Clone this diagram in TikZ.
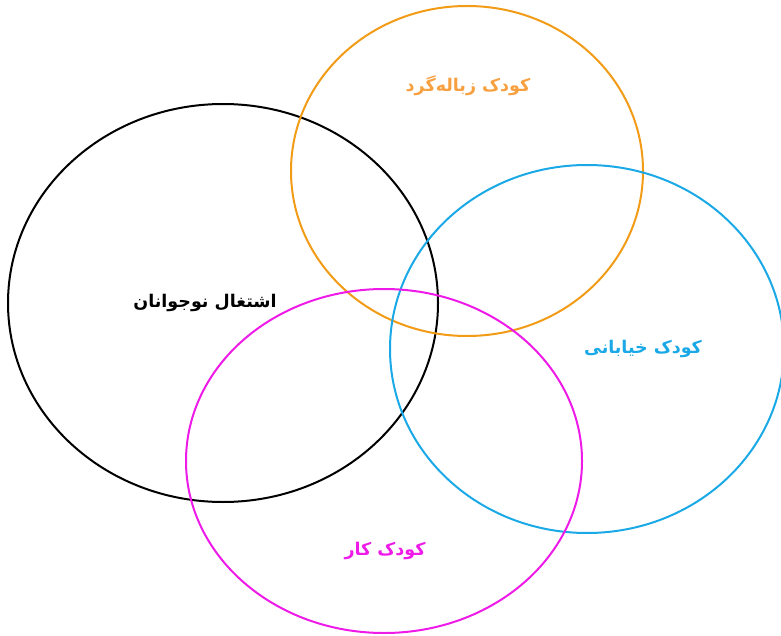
\documentclass[tikz,border=0pt]{standalone}
\usepackage{fontspec}
\TeXXeTstate=1
\newfontfamily\arabicfont[Script=Arabic]{DejaVu Sans}
\definecolor{corange}{HTML}{F29B17}
\definecolor{torange}{HTML}{F7A040}
\definecolor{ccyan}{HTML}{1AA9E6}
\definecolor{cmag}{HTML}{EE1BE8}
\tikzset{
  setring/.style={line width=2pt, fill=none},
  setlabel/.style={font=\fontsize{17.5}{21}\selectfont\arabicfont\bfseries, inner sep=0pt},
}
\begin{document}
\begin{tikzpicture}[x=1pt,y=-1pt]
\useasboundingbox (0,0) rectangle (781,636);
\draw[setring, black] (223,303) ellipse [x radius=215, y radius=199];
\draw[setring, corange] (467,171) ellipse [x radius=176, y radius=165];
\draw[setring, ccyan] (587,349) ellipse [x radius=197, y radius=184];
\draw[setring, cmag] (384,461) ellipse [x radius=198, y radius=172];
\node[setlabel, text=black] (a) at (205,303) {\beginR اشتغال نوجوانان\endR};
\node[setlabel, text=torange] (b) at (468,86) {\beginR کودک زباله‌گرد\endR};
\node[setlabel, text=ccyan] (c) at (643,349) {\beginR کودک خیابانی\endR};
\node[setlabel, text=cmag] (d) at (385,551) {\beginR کودک کار\endR};
\end{tikzpicture}
\end{document}
